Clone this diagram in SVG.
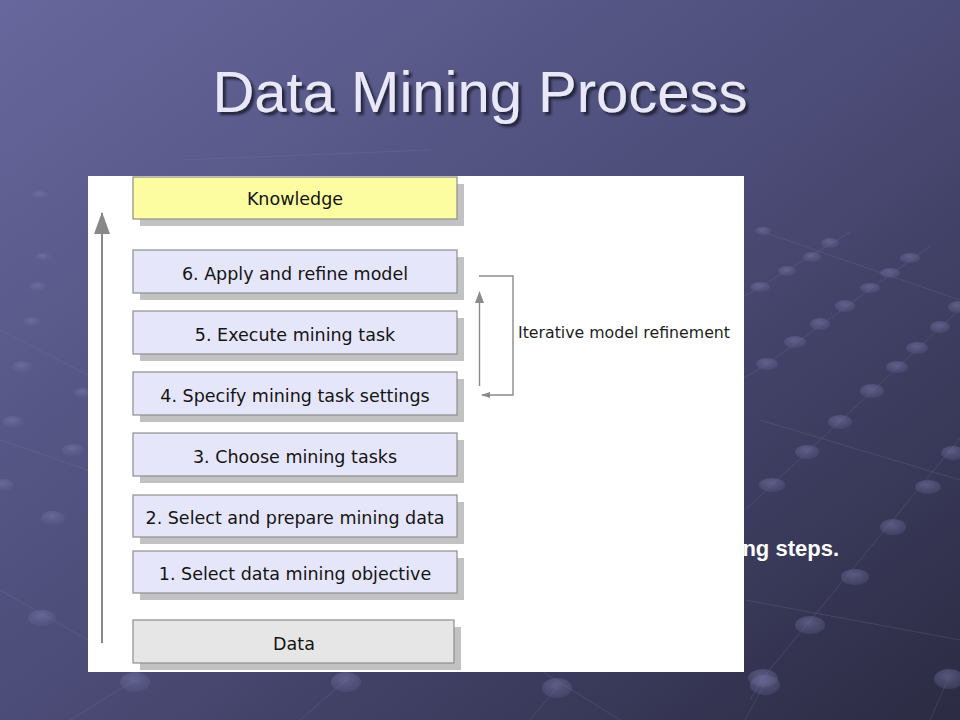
<svg xmlns="http://www.w3.org/2000/svg" width="960" height="720" viewBox="0 0 960 720">
  <defs>
    <linearGradient id="bg" x1="0" y1="0" x2="1" y2="1">
      <stop offset="0" stop-color="#67679d"/>
      <stop offset="0.5" stop-color="#4c4c78"/>
      <stop offset="1" stop-color="#2b2b43"/>
    </linearGradient>
    <radialGradient id="dotg" cx="0.45" cy="0.35" r="0.7">
      <stop offset="0" stop-color="#8080b0" stop-opacity="0.5"/>
      <stop offset="1" stop-color="#5a5a88" stop-opacity="0.3"/>
    </radialGradient>
    <filter id="tshadow" x="-5%" y="-20%" width="110%" height="140%">
      <feDropShadow dx="3" dy="3" stdDeviation="1.2" flood-color="#14142a" flood-opacity="0.8"/>
    </filter>
    <marker id="headBig" viewBox="0 0 22 16" refX="21" refY="8" markerWidth="22" markerHeight="16" markerUnits="userSpaceOnUse" orient="auto">
      <path d="M22 8 L0 0 L0 16 Z" fill="#888888"/>
    </marker>
  </defs>
  <style>
    .deco-line { stroke: #7a7aa8; stroke-opacity: 0.25; stroke-width: 1; fill: none; }
    .deco-dot { fill: url(#dotg); }
    .box-shadow { fill: #c2c2c2; }
    .box { stroke: #8e8e8e; stroke-width: 1.2; }
    .step { fill: #e6e6fa; }
    .know { fill: #fcfca0; }
    .data { fill: #e6e6e6; }
    .label { font-family: "DejaVu Sans", Verdana, sans-serif; font-size: 17.5px; fill: #141414; text-anchor: middle; }
    .conn { stroke: #888888; stroke-width: 2; fill: none; }
    .conn-thin { stroke: #8a8a8a; stroke-width: 1.4; fill: none; }
  </style>

  <!-- slide background -->
  <rect x="0" y="0" width="960" height="720" fill="url(#bg)"/>

  <!-- background decoration -->
  <g id="decoration">
    <path class="deco-line" d="M850 232 L760 287 L700 322"/>
    <path class="deco-line" d="M930 246 L767 364 L700 405"/>
    <path class="deco-line" d="M975 295 L772 485 L745 510"/>
    <path class="deco-line" d="M975 420 L763 678 L750 700"/>
    <path class="deco-line" d="M760 231 L960 300"/>
    <path class="deco-line" d="M760 420 L960 480"/>
    <path class="deco-line" d="M745 600 L960 640"/>
    <path class="deco-line" d="M0 330 L88 375"/>
    <path class="deco-line" d="M0 440 L88 470"/>
    <path class="deco-line" d="M0 590 L88 640"/>
    <path class="deco-line" d="M135 680 L70 720"/>
    <path class="deco-line" d="M346 680 L300 720"/>
    <path class="deco-line" d="M557 687 L530 720"/>
    <path class="deco-line" d="M540 670 L620 720"/>
    <path class="deco-line" d="M765 683 L745 720"/>
    <path class="deco-line" d="M949 677 L930 720"/>
    <path class="deco-line" d="M180 160 L430 150"/>
    <ellipse class="deco-dot" cx="763" cy="231" rx="8" ry="4"/>
    <ellipse class="deco-dot" cx="830" cy="243" rx="9" ry="5"/>
    <ellipse class="deco-dot" cx="812" cy="257" rx="9" ry="5"/>
    <ellipse class="deco-dot" cx="787" cy="271" rx="9" ry="5"/>
    <ellipse class="deco-dot" cx="760" cy="287" rx="10" ry="5"/>
    <ellipse class="deco-dot" cx="910" cy="258" rx="10" ry="5"/>
    <ellipse class="deco-dot" cx="890" cy="273" rx="10" ry="5"/>
    <ellipse class="deco-dot" cx="870" cy="288" rx="10" ry="5"/>
    <ellipse class="deco-dot" cx="845" cy="306" rx="10" ry="6"/>
    <ellipse class="deco-dot" cx="820" cy="324" rx="10" ry="6"/>
    <ellipse class="deco-dot" cx="795" cy="342" rx="11" ry="6"/>
    <ellipse class="deco-dot" cx="767" cy="364" rx="11" ry="6"/>
    <ellipse class="deco-dot" cx="958" cy="307" rx="10" ry="6"/>
    <ellipse class="deco-dot" cx="940" cy="327" rx="10" ry="6"/>
    <ellipse class="deco-dot" cx="917" cy="348" rx="11" ry="6"/>
    <ellipse class="deco-dot" cx="897" cy="367" rx="11" ry="6"/>
    <ellipse class="deco-dot" cx="872" cy="391" rx="12" ry="7"/>
    <ellipse class="deco-dot" cx="840" cy="422" rx="12" ry="7"/>
    <ellipse class="deco-dot" cx="807" cy="452" rx="12" ry="7"/>
    <ellipse class="deco-dot" cx="772" cy="485" rx="13" ry="7"/>
    <ellipse class="deco-dot" cx="953" cy="453" rx="12" ry="7"/>
    <ellipse class="deco-dot" cx="928" cy="487" rx="13" ry="7"/>
    <ellipse class="deco-dot" cx="893" cy="527" rx="13" ry="8"/>
    <ellipse class="deco-dot" cx="855" cy="577" rx="14" ry="8"/>
    <ellipse class="deco-dot" cx="810" cy="625" rx="15" ry="9"/>
    <ellipse class="deco-dot" cx="763" cy="678" rx="15" ry="9"/>
    <ellipse class="deco-dot" cx="40" cy="195" rx="8" ry="4"/>
    <ellipse class="deco-dot" cx="43" cy="257" rx="8" ry="4"/>
    <ellipse class="deco-dot" cx="38" cy="287" rx="9" ry="5"/>
    <ellipse class="deco-dot" cx="32" cy="322" rx="9" ry="5"/>
    <ellipse class="deco-dot" cx="22" cy="367" rx="10" ry="6"/>
    <ellipse class="deco-dot" cx="83" cy="393" rx="9" ry="5"/>
    <ellipse class="deco-dot" cx="13" cy="422" rx="11" ry="6"/>
    <ellipse class="deco-dot" cx="73" cy="450" rx="11" ry="6"/>
    <ellipse class="deco-dot" cx="3" cy="485" rx="11" ry="6"/>
    <ellipse class="deco-dot" cx="53" cy="518" rx="12" ry="7"/>
    <ellipse class="deco-dot" cx="42" cy="618" rx="14" ry="8"/>
    <ellipse class="deco-dot" cx="135" cy="682" rx="15" ry="10"/>
    <ellipse class="deco-dot" cx="346" cy="682" rx="15" ry="10"/>
    <ellipse class="deco-dot" cx="557" cy="688" rx="15" ry="10"/>
    <ellipse class="deco-dot" cx="765" cy="685" rx="15" ry="10"/>
    <ellipse class="deco-dot" cx="949" cy="679" rx="15" ry="10"/>
  </g>

  <!-- title -->
  <g id="title">
    <text x="480" y="112" font-family="'Liberation Sans', Arial, sans-serif" font-size="58" text-anchor="middle" fill="#e8e8f8" filter="url(#tshadow)">Data Mining Process</text>
  </g>

  <!-- partially hidden slide text (behind picture) -->
  <text id="caption" x="839" y="556" font-family="'Liberation Sans', Arial, sans-serif" font-size="22" font-weight="bold" text-anchor="end" fill="#ffffff">ng steps.</text>

  <!-- white picture panel -->
  <rect id="panel" x="88" y="176" width="656" height="496" fill="#ffffff"/>

  <!-- nodes -->
  <g id="knowledge">
    <rect class="box-shadow" x="140" y="184" width="324" height="42"/>
    <rect class="box know" x="133" y="177" width="324" height="42"/>
    <text class="label" x="295" y="205">Knowledge</text>
  </g>
  <g id="step6">
    <rect class="box-shadow" x="140" y="257" width="324" height="43"/>
    <rect class="box step" x="133" y="250" width="324" height="43"/>
    <text class="label" x="295" y="280">6. Apply and refine model</text>
  </g>
  <g id="step5">
    <rect class="box-shadow" x="140" y="318" width="324" height="43"/>
    <rect class="box step" x="133" y="311" width="324" height="43"/>
    <text class="label" x="295" y="341">5. Execute mining task</text>
  </g>
  <g id="step4">
    <rect class="box-shadow" x="140" y="379" width="324" height="43"/>
    <rect class="box step" x="133" y="372" width="324" height="43"/>
    <text class="label" x="295" y="402">4. Specify mining task settings</text>
  </g>
  <g id="step3">
    <rect class="box-shadow" x="140" y="440" width="324" height="43"/>
    <rect class="box step" x="133" y="433" width="324" height="43"/>
    <text class="label" x="295" y="463">3. Choose mining tasks</text>
  </g>
  <g id="step2">
    <rect class="box-shadow" x="140" y="502" width="324" height="42"/>
    <rect class="box step" x="133" y="495" width="324" height="42"/>
    <text class="label" x="295" y="524">2. Select and prepare mining data</text>
  </g>
  <g id="step1">
    <rect class="box-shadow" x="140" y="558" width="324" height="42"/>
    <rect class="box step" x="133" y="551" width="324" height="42"/>
    <text class="label" x="295" y="580">1. Select data mining objective</text>
  </g>
  <g id="data">
    <rect class="box-shadow" x="140" y="627" width="321" height="43"/>
    <rect class="box data" x="133" y="620" width="321" height="43"/>
    <text class="label" x="294" y="650">Data</text>
  </g>

  <!-- connectors -->
  <g id="connectors">
    <line class="conn" x1="102" y1="643" x2="102" y2="213" marker-end="url(#headBig)"/>
    <path class="conn-thin" d="M479 276 L513 276 L513 395 L482 395"/>
    <path d="M481 395 L490 392 L490 398 Z" fill="#8a8a8a"/>
    <line class="conn-thin" x1="479.5" y1="386" x2="479.5" y2="300"/>
    <path d="M479.5 291 L484 303 L475 303 Z" fill="#8a8a8a"/>
    <text x="518" y="338" font-family="'DejaVu Sans', Verdana, sans-serif" font-size="16" fill="#1e1e1e" textLength="212" lengthAdjust="spacingAndGlyphs">Iterative model refinement</text>
  </g>
</svg>
